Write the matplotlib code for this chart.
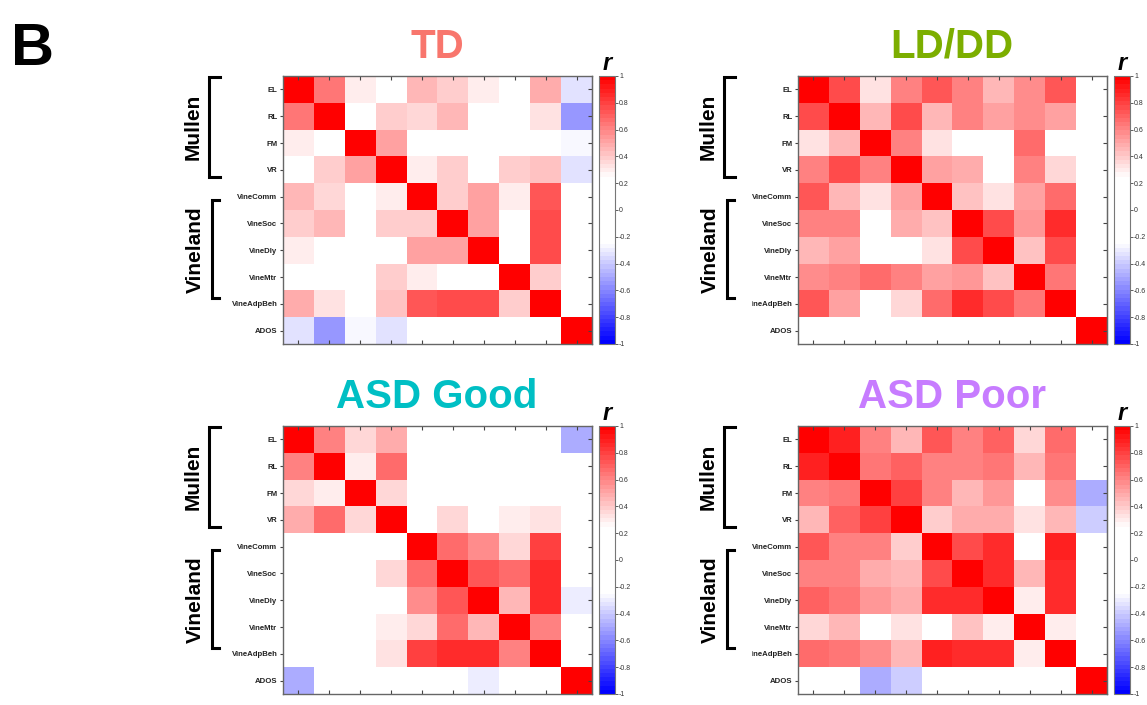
import numpy as np
import matplotlib
matplotlib.use("Agg")
import matplotlib.pyplot as plt
from matplotlib.colors import LinearSegmentedColormap
from matplotlib.transforms import Bbox, TransformedBbox

plt.rcParams["font.family"] = ["Liberation Sans", "DejaVu Sans"]

measures = ["EL", "RL", "FM", "VR", "VineComm", "VineSoc", "VineDly",
            "VineMtr", "VineAdpBeh", "ADOS"]

groups = ["TD", "LD/DD", "ASD Good", "ASD Poor"]
group_colors = ["#F8766D", "#7CAE00", "#00BFC4", "#C77CFF"]

# correlation matrices (white = |r| below ~0.25)
r_td = [
    [1.00, 0.65, 0.30, 0.00, 0.45, 0.38, 0.30, 0.00, 0.47, -0.33],
    [0.65, 1.00, 0.00, 0.38, 0.35, 0.45, 0.00, 0.00, 0.33, -0.55],
    [0.30, 0.00, 1.00, 0.50, 0.00, 0.00, 0.00, 0.00, 0.00, -0.28],
    [0.00, 0.38, 0.50, 1.00, 0.29, 0.40, 0.00, 0.38, 0.42, -0.32],
    [0.45, 0.35, 0.00, 0.29, 1.00, 0.38, 0.50, 0.30, 0.73, 0.00],
    [0.38, 0.45, 0.00, 0.40, 0.38, 1.00, 0.50, 0.00, 0.78, 0.00],
    [0.30, 0.00, 0.00, 0.00, 0.50, 0.50, 1.00, 0.00, 0.75, 0.00],
    [0.00, 0.00, 0.00, 0.38, 0.30, 0.00, 0.00, 1.00, 0.38, 0.00],
    [0.47, 0.33, 0.00, 0.42, 0.73, 0.78, 0.75, 0.38, 1.00, 0.00],
    [-0.33, -0.55, -0.28, -0.32, 0.00, 0.00, 0.00, 0.00, 0.00, 1.00],
]
r_lddd = [
    [1.00, 0.75, 0.33, 0.60, 0.72, 0.60, 0.45, 0.58, 0.72, 0.00],
    [0.75, 1.00, 0.45, 0.78, 0.45, 0.62, 0.50, 0.58, 0.52, 0.00],
    [0.33, 0.45, 1.00, 0.60, 0.33, 0.00, 0.00, 0.68, 0.00, 0.00],
    [0.60, 0.78, 0.60, 1.00, 0.50, 0.47, 0.00, 0.62, 0.35, 0.00],
    [0.72, 0.45, 0.33, 0.50, 1.00, 0.42, 0.33, 0.52, 0.68, 0.00],
    [0.60, 0.62, 0.00, 0.47, 0.42, 1.00, 0.75, 0.55, 0.85, 0.00],
    [0.45, 0.50, 0.00, 0.00, 0.33, 0.75, 1.00, 0.42, 0.78, 0.00],
    [0.58, 0.60, 0.68, 0.60, 0.50, 0.55, 0.42, 1.00, 0.65, 0.00],
    [0.72, 0.52, 0.00, 0.35, 0.68, 0.85, 0.78, 0.65, 1.00, 0.00],
    [0.00, 0.00, 0.00, 0.00, 0.00, 0.00, 0.00, 0.00, 0.00, 1.00],
]
r_good = [
    [1.00, 0.62, 0.35, 0.47, 0.00, 0.00, 0.00, 0.00, 0.00, -0.50],
    [0.62, 1.00, 0.30, 0.68, 0.00, 0.00, 0.00, 0.00, 0.00, 0.00],
    [0.35, 0.30, 1.00, 0.35, 0.00, 0.00, 0.00, 0.00, 0.00, 0.00],
    [0.47, 0.68, 0.35, 1.00, 0.00, 0.35, 0.00, 0.30, 0.32, 0.00],
    [0.00, 0.00, 0.00, 0.00, 1.00, 0.68, 0.58, 0.35, 0.80, 0.00],
    [0.00, 0.00, 0.00, 0.35, 0.68, 1.00, 0.72, 0.68, 0.85, 0.00],
    [0.00, 0.00, 0.00, 0.00, 0.58, 0.72, 1.00, 0.45, 0.85, -0.30],
    [0.00, 0.00, 0.00, 0.30, 0.35, 0.68, 0.45, 1.00, 0.62, 0.00],
    [0.00, 0.00, 0.00, 0.32, 0.80, 0.85, 0.85, 0.62, 1.00, 0.00],
    [-0.50, 0.00, 0.00, 0.00, 0.00, 0.00, -0.30, 0.00, 0.00, 1.00],
]
r_poor = [
    [1.00, 0.88, 0.60, 0.45, 0.72, 0.60, 0.70, 0.35, 0.68, 0.00],
    [0.88, 1.00, 0.65, 0.70, 0.62, 0.60, 0.65, 0.45, 0.65, 0.00],
    [0.60, 0.65, 1.00, 0.80, 0.62, 0.45, 0.55, 0.00, 0.58, -0.50],
    [0.45, 0.70, 0.80, 1.00, 0.40, 0.47, 0.47, 0.33, 0.45, -0.40],
    [0.72, 0.62, 0.62, 0.40, 1.00, 0.78, 0.85, 0.00, 0.88, 0.00],
    [0.60, 0.60, 0.47, 0.45, 0.78, 1.00, 0.85, 0.45, 0.85, 0.00],
    [0.70, 0.65, 0.55, 0.47, 0.85, 0.85, 1.00, 0.30, 0.85, 0.00],
    [0.35, 0.45, 0.00, 0.33, 0.00, 0.42, 0.30, 1.00, 0.30, 0.00],
    [0.68, 0.65, 0.58, 0.45, 0.88, 0.85, 0.85, 0.30, 1.00, 0.00],
    [0.00, 0.00, -0.50, -0.40, 0.00, 0.00, 0.00, 0.00, 0.00, 1.00],
]
matrices = [r_td, r_lddd, r_good, r_poor]

cbar_ticks = [-1, -0.8, -0.6, -0.4, -0.2, 0, 0.2, 0.4, 0.6, 0.8, 1]

W, H = 1147, 705
fig = plt.figure(figsize=(W / 100, H / 100), dpi=100)

cmap = LinearSegmentedColormap.from_list(
    "bwr_gap",
    [(0.0, "#0000ff"), (0.375, "#ffffff"), (0.625, "#ffffff"), (1.0, "#ff0000")],
    N=64,
)


def px_rect(x0, y0, x1, y1):
    return [x0 / W, 1 - y1 / H, (x1 - x0) / W, (y1 - y0) / H]


def fx(x):
    return x / W


def fy(y):
    return 1 - y / H


def draw_panel(k, dx, dy, clip_x=None):
    ax = fig.add_axes(px_rect(283 + dx, 76 + dy, 592 + dx, 344 + dy))
    im = ax.imshow(np.array(matrices[k]), cmap=cmap, vmin=-1, vmax=1,
                   aspect="auto", interpolation="nearest")
    ax.set_yticks(range(len(measures)))
    ax.set_yticklabels(measures, fontsize=5.6, fontweight="bold", color="#222222")
    ax.set_xticks(range(len(measures)))
    ax.set_xticklabels([])
    ax.tick_params(axis="y", direction="out", length=2.5, width=0.8,
                   color="#444444", pad=1.5)
    ax.tick_params(axis="x", direction="in", length=3, width=0.8,
                   color="#444444", top=True, bottom=True)
    right = ax.secondary_yaxis("right")
    right.set_yticks(range(len(measures)))
    right.set_yticklabels([])
    right.tick_params(direction="in", length=3, width=0.8, color="#444444")
    right.spines["right"].set_color("#666666")
    for s in ax.spines.values():
        s.set_color("#666666")
        s.set_linewidth(1.0)

    if clip_x is not None:
        box = TransformedBbox(Bbox([[fx(clip_x), 0], [1, 1]]), fig.transFigure)
        for lab in ax.get_yticklabels():
            lab.set_clip_box(box)
            lab.set_clip_on(True)

    cax = fig.add_axes(px_rect(599 + dx, 76 + dy, 615 + dx, 344 + dy))
    cb = fig.colorbar(im, cax=cax, ticks=cbar_ticks)
    cb.ax.set_yticklabels([f"{t:g}" for t in cbar_ticks], fontsize=5,
                          color="#333333")
    cb.ax.tick_params(length=2, width=0.6, color="#444444", pad=1)
    cb.outline.set_edgecolor("#777777")
    cb.outline.set_linewidth(0.8)
    fig.text(fx(607 + dx), fy(70 + dy), "r", fontsize=17, fontweight="bold",
             style="italic", ha="center", va="baseline")

    fig.text(fx(437 + dx), fy(58 + dy), groups[k], fontsize=29,
             fontweight="bold", color=group_colors[k], ha="center",
             va="baseline")

    # bracket groups on the left
    for (xv, y0, y1, xarm) in [(209, 77, 177, 220), (212, 200, 298, 219)]:
        xs = [fx(xarm + dx), fx(xv + dx), fx(xv + dx), fx(xarm + dx)]
        ys = [fy(y0 + dy), fy(y0 + dy), fy(y1 + dy), fy(y1 + dy)]
        fig.add_artist(plt.Line2D(xs, ys, color="black", lw=2.2,
                                  solid_joinstyle="miter",
                                  transform=fig.transFigure))
    fig.text(fx(193 + dx), fy(127 + dy), "Mullen", fontsize=15,
             fontweight="bold", rotation=90, ha="center", va="center")
    fig.text(fx(195 + dx), fy(250 + dy), "Vineland", fontsize=15,
             fontweight="bold", rotation=90, ha="center", va="center")


draw_panel(0, 0, 0)
draw_panel(1, 515, 0, clip_x=752)
draw_panel(2, 0, 350)
draw_panel(3, 515, 350, clip_x=752)

fig.text(fx(11), fy(65), "B", fontsize=43, fontweight="bold",
         ha="left", va="baseline")

fig.savefig("out.png", dpi=100)
